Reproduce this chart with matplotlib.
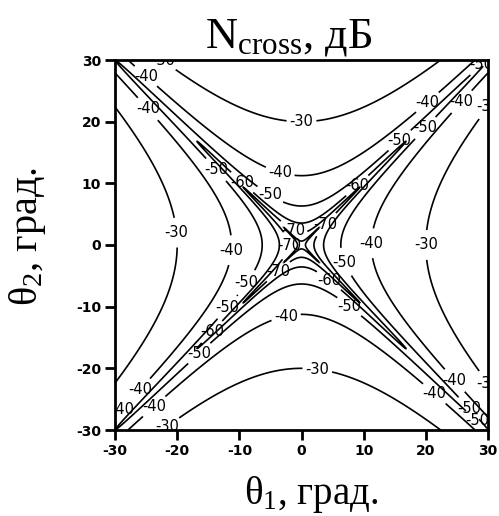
import matplotlib
matplotlib.use("Agg")
import matplotlib.pyplot as plt
import numpy as np

plt.rcParams['axes.unicode_minus'] = False
plt.rcParams['mathtext.fontset'] = 'custom'
plt.rcParams['mathtext.rm'] = 'Liberation Serif'
plt.rcParams['mathtext.it'] = 'Liberation Serif:italic'

# data
levels = [-90, -70, -60, -50, -40, -30]          # contour levels, dB
ticks = [-30, -20, -10, 0, 10, 20, 30]          # tick values, deg
axis_angle_deg = 20.0      # angle on an axis where the level is -30 dB
axis_level_db = -30.0
corner_diag_level_db = -50.0   # level on the diagonal at the (30, 30) corner

# field model: cross-pol level ~ |t1^2 - t2^2| with a small floor on the diagonals
t = np.linspace(-30, 30, 601)
T1, T2 = np.meshgrid(t, t)
r1 = np.radians(T1)
r2 = np.radians(T2)
C = 10 ** (axis_level_db / 20) / np.radians(axis_angle_deg) ** 2
D = 10 ** (corner_diag_level_db / 20) / (2 * np.radians(30) ** 2)
N = 10 * np.log10((C * (r1**2 - r2**2)) ** 2 + (D * (r1**2 + r2**2)) ** 2 + 1e-20)

# label spots (layout only)
label_spots = [
    (0, 21), (-22.3, 29.7), (-25.2, 27.2), (-24.9, 21.9), (-3.5, 11.7),
    (-14.2, 11.8), (-9.6, 10.1), (-5.1, 8.1), (-21.2, 1.9), (-12, -0.8),
    (-1.4, 2.4), (-1.4, -0.2), (-4, -4), (-8.3, -6.5), (4.1, 3.2),
    (8.9, 9.7), (6.7, -2.9), (4.1, -6.2), (7.3, -10.5), (10.7, 0.3),
    (-2.5, -11.6), (28.7, 29.5), (20.2, 23.2), (25.8, 23.2), (29.2, 23.2),
    (15.4, 17.4), (19.9, 19), (19.4, 0), (-12.3, -9.8), (-14.3, -14.2),
    (-16.5, -17.5), (-26.5, -23), (-23.6, -26.3), (-28.4, -27),
    (-21.6, -29.5), (2.5, -20.6), (24.4, -22.2), (21.2, -24.3),
    (29.2, -23.5), (27.1, -26.3), (27.9, -28.9),
]

fig = plt.figure(figsize=(4.99, 5.16), dpi=100)
ax = fig.add_axes([115 / 499, 1 - 430 / 516, 373 / 499, 370 / 516])

cs = ax.contour(T1, T2, N, levels=levels, colors='black', linewidths=1.2,
                negative_linestyles='solid')
lbls = ax.clabel(cs, fmt='%d', fontsize=10.5, inline=True, inline_spacing=3,
                 manual=label_spots)
for tx in lbls:
    tx.set_rotation(0)
    tx.set_family('DejaVu Sans')

ax.set_xlim(-30, 30)
ax.set_ylim(-30, 30)
ax.set_xticks(ticks)
ax.set_yticks(ticks)
ax.tick_params(direction='out', length=7, width=2, top=False, right=False,
               labelsize=10, pad=3)
for lab in ax.get_xticklabels() + ax.get_yticklabels():
    lab.set_fontweight('bold')
    lab.set_family('DejaVu Sans')
for sp in ax.spines.values():
    sp.set_linewidth(2)

ax.set_title(r'N$_\mathrm{cross}$, дБ', family='Liberation Serif', fontsize=32,
             pad=9, x=0.465)
ax.set_xlabel(r'θ$_\mathrm{1}$, град.', family='Liberation Serif', fontsize=28)
ax.set_ylabel(r'θ$_\mathrm{2}$, град.', family='Liberation Serif', fontsize=29)
ax.xaxis.set_label_coords(0.525, -0.118)
ax.yaxis.set_label_coords(-0.18, 0.523)

fig.savefig('out.png', dpi=100)
